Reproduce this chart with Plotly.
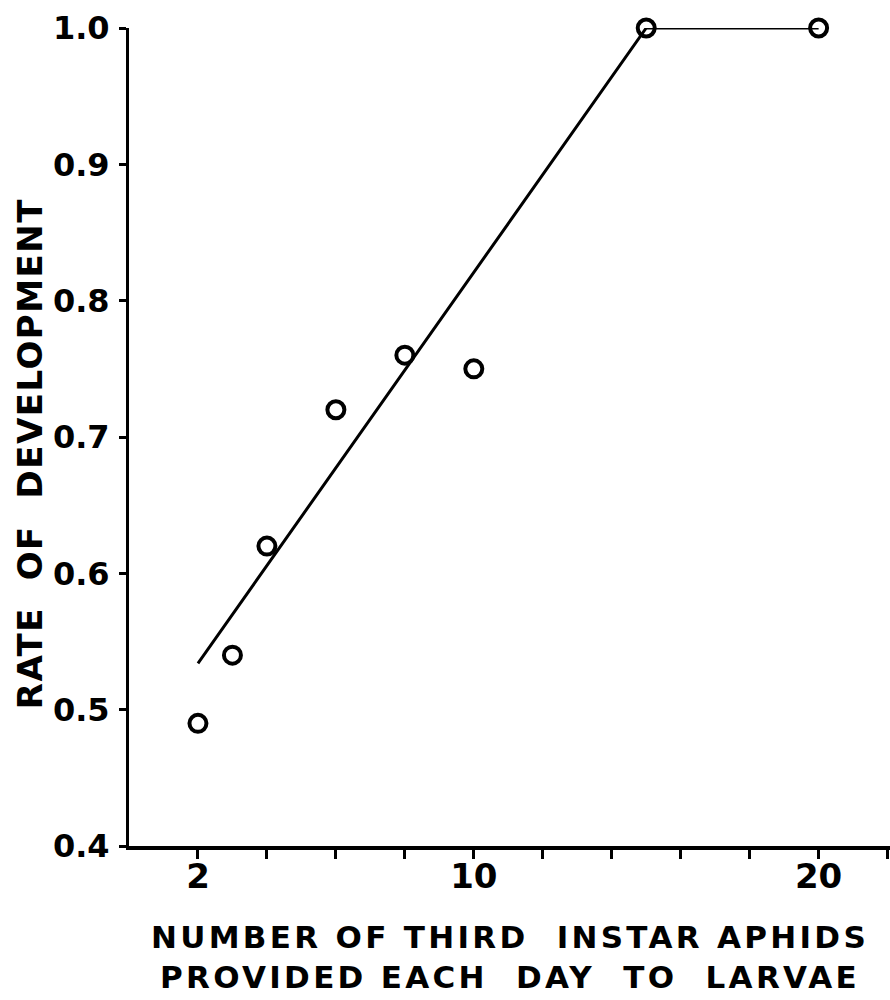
import plotly.graph_objects as go

# Observed rate of development vs. number of aphids supplied per day
aphids_per_day = [2, 3, 4, 6, 8, 10, 15, 20]
rate_of_development = [0.49, 0.54, 0.62, 0.72, 0.76, 0.75, 1.0, 1.0]

# Fitted broken-line relationship
fit_x = [2, 15, 20]
fit_y = [0.534, 1.0, 1.0]

x_tickvals = [2, 4, 6, 8, 10, 12, 14, 16, 18, 20, 22]
x_ticktext = ["2", "", "", "", "10", "", "", "", "", "20", ""]
y_tickvals = [0.4, 0.5, 0.6, 0.7, 0.8, 0.9, 1.0]
y_ticktext = ["0.4", "0.5", "0.6", "0.7", "0.8", "0.9", "1.0"]

FONT = "DejaVu Sans"

fig = go.Figure()
fig.add_trace(go.Scatter(
    x=fit_x, y=fit_y, mode="lines",
    line=dict(color="black", width=3),
    hoverinfo="skip", showlegend=False,
))
fig.add_trace(go.Scatter(
    x=aphids_per_day, y=rate_of_development, mode="markers",
    marker=dict(symbol="circle-open", size=17, color="black",
                line=dict(width=4, color="black")),
    cliponaxis=False, showlegend=False,
))


def spaced(text, px):
    return '<span style="letter-spacing:{}px">{}</span>'.format(px, text)


fig.update_layout(
    width=890, height=1000,
    margin=dict(l=129, r=0, t=28, b=154),
    paper_bgcolor="white", plot_bgcolor="white",
    font=dict(family=FONT, color="black"),
    xaxis=dict(
        range=[0, 22.07], showgrid=False, zeroline=False,
        showline=True, linecolor="black", linewidth=3.5,
        ticks="outside", ticklen=9, tickwidth=3, tickcolor="black",
        tickvals=x_tickvals, ticktext=x_ticktext,
        tickfont=dict(family=FONT, size=34, color="black", weight="bold"),
        ticklabelstandoff=-12,
    ),
    yaxis=dict(
        range=[0.4, 1.0], showgrid=False, zeroline=False,
        showline=True, linecolor="black", linewidth=3,
        ticks="outside", ticklen=7, tickwidth=3, tickcolor="black",
        tickvals=y_tickvals, ticktext=y_ticktext,
        tickfont=dict(family=FONT, size=32, color="black", weight="bold"),
        ticklabelstandoff=3,
    ),
    annotations=[
        dict(text=spaced("NUMBER OF THIRD  INSTAR APHIDS", 3.3) + "<br>"
             + spaced("PROVIDED EACH  DAY  TO  LARVAE", 3.3),
             xref="paper", yref="paper", x=0.5, y=-0.087,
             xanchor="center", yanchor="top", showarrow=False,
             font=dict(family=FONT, size=31, color="black", weight="bold"),
             align="center"),
        dict(text=spaced("RATE  OF  DEVELOPMENT", 1.5),
             xref="paper", yref="paper", x=-0.13, y=0.479,
             xanchor="center", yanchor="middle", showarrow=False, textangle=-90,
             font=dict(family=FONT, size=34, color="black", weight="bold")),
    ],
)

fig.write_html("out.html")
